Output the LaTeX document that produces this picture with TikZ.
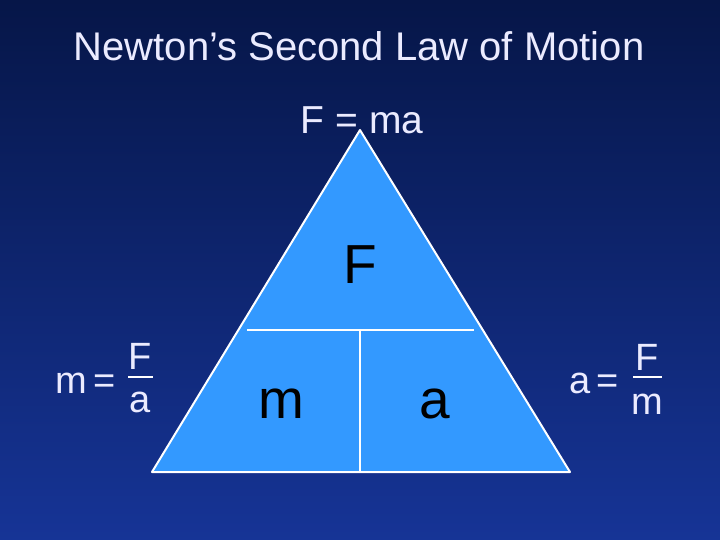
\documentclass[tikz,border=0pt]{standalone}
\usepackage{fontspec}
\setmainfont{Liberation Sans}
\definecolor{bgtop}{RGB}{6,22,72}
\definecolor{bgbot}{RGB}{22,52,150}
\definecolor{tri}{RGB}{51,153,255}
\begin{document}
\begin{tikzpicture}[x=1pt,y=-1pt,
  wt/.style={text=white!92!blue, inner sep=0pt},
  bk/.style={text=black, inner sep=0pt},
  frac/.style={font=\fontsize{38}{40}\selectfont}]
\shade[top color=bgtop, bottom color=bgbot] (0,0) rectangle (720,540);
\useasboundingbox (0,0) rectangle (720,540);
\coordinate (A) at (360,130);
\coordinate (B) at (152,472);
\coordinate (C) at (570,472);
\coordinate (L) at (247,330);
\coordinate (R) at (474,330);
\coordinate (M) at (360,330);
\coordinate (N) at (360,472);
\fill[tri] (A) -- (B) -- (C) -- cycle;
\draw[white, line width=2pt, line join=round] (A) -- (B) -- (C) -- cycle;
\draw[white, line width=2pt] (L) -- (R) (M) -- (N);
\node[wt, font=\fontsize{40}{44}\selectfont] (t) at (359,46) {Newton’s Second Law of Motion};
\node[wt, font=\fontsize{39}{44}\selectfont] (f) at (362,120) {F = ma};
\node[bk, font=\fontsize{55}{60}\selectfont] (F) at (360,265) {F};
\node[bk, font=\fontsize{55}{60}\selectfont] (m) at (281,404) {m};
\node[bk, font=\fontsize{55}{60}\selectfont] (a) at (435,404) {a};
\node[wt, frac] (lm) at (86,383) {m\,=};
\node[wt, frac] (lF) at (140,356) {F};
\node[wt, frac] (la) at (140,402) {a};
\draw[white, line width=2.5pt] (128,377) -- (153,377);
\node[wt, frac] (ra) at (594,383) {a\,=};
\node[wt, frac] (rF) at (647,357) {F};
\node[wt, frac] (rm) at (647,404) {m};
\draw[white, line width=2.5pt] (633,377) -- (662,377);
\end{tikzpicture}
\end{document}
